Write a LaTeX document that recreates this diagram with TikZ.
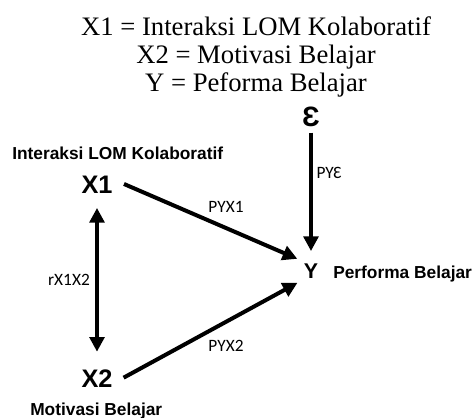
\documentclass[tikz,border=0pt]{standalone}
\usepackage{fontspec}
\setmainfont{Liberation Serif}
\setsansfont{Liberation Sans}
\newfontfamily\coeffont{Carlito}
\usetikzlibrary{arrows.meta}

\begin{document}
\begin{tikzpicture}[x=0.75pt, y=-0.75pt,
    heading/.style={anchor=base, inner sep=0pt, font=\fontsize{20}{24}\selectfont},
    var/.style={anchor=base, inner sep=2pt, font=\sffamily\bfseries\fontsize{19}{22}\selectfont},
    desc/.style={anchor=base west, inner sep=0pt, font=\sffamily\bfseries\fontsize{13}{16}\selectfont},
    coef/.style={inner sep=0pt, font=\coeffont\fontsize{13}{15}\selectfont},
    path/.style={line width=3pt, -{Triangle[length=11pt, width=11pt]}}]
    \useasboundingbox (0, 0) rectangle (472, 418);

    \node[heading] (t-1) at (256, 35) {X1 = Interaksi LOM Kolaboratif};
    \node[heading] (t-2) at (256, 63) {X2 = Motivasi Belajar};
    \node[heading] (t-3) at (256, 91) {Y = Peforma Belajar};

    \node[var] (x-1) at (97, 193) {X1};
    \node[var] (x-2) at (97, 387) {X2};
    \node[var, font=\sffamily\bfseries\fontsize{16}{19}\selectfont] (y) at (311, 278) {Y};
    \node[inner sep=2pt, font=\sffamily\bfseries\fontsize{21}{24}\selectfont] (eps) at (311, 117) {Ɛ};

    \node[desc] (d-1) at (12, 159) {Interaksi LOM Kolaboratif};
    \node[desc] (d-2) at (30, 415) {Motivasi Belajar};
    \node[desc] (d-y) at (333, 278) {Performa Belajar};

    \draw[path, shorten <=7pt, shorten >=3pt] ([yshift=3pt]x-1.east) -- (y.north west);
    \draw[path, shorten <=7pt, shorten >=3pt] ([yshift=-3pt]x-2.east) -- (y.south west);
    \draw[path, shorten <=2pt, shorten >=7pt] (eps.south) -- (eps.south |- y.north);
    \draw[path, {Triangle[length=11pt, width=11pt]}-{Triangle[length=11pt, width=11pt]},
        shorten <=9pt, shorten >=11pt] (x-1.south) -- (x-2.north);

    \node[coef] (p-1) at (226, 207) {PYX1};
    \node[coef] (p-2) at (226, 346) {PYX2};
    \node[coef] (p-e) at (329, 173) {PYƐ};
    \node[coef] (r-12) at (69, 280) {rX1X2};
\end{tikzpicture}
\end{document}
